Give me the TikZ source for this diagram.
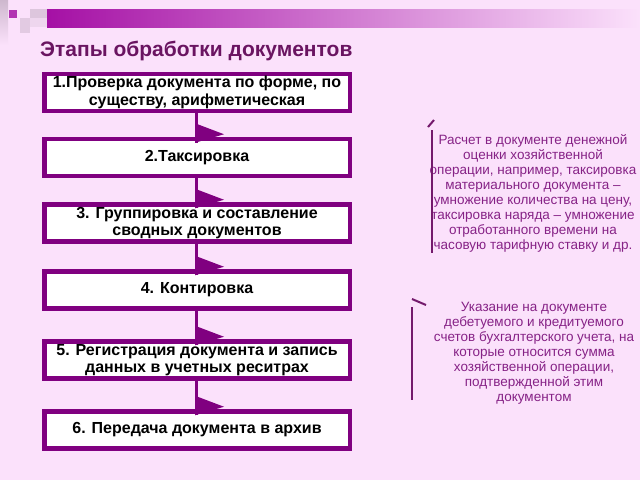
\documentclass[tikz,border=0pt]{standalone}
\usepackage{fontspec}
\setmainfont{Liberation Sans}
\definecolor{bgc}{HTML}{FBE1FB}
\definecolor{boxc}{HTML}{800080}
\definecolor{titlec}{HTML}{6A1461}
\definecolor{notec}{HTML}{862286}
\definecolor{brkc}{HTML}{741A6C}
\definecolor{barc}{HTML}{A510A5}
\begin{document}
\begin{tikzpicture}[x=1pt,y=-1pt,
  stepbox/.style={draw=boxc, line width=4.5pt, fill=white, minimum width=305.5pt,
    minimum height=37pt, inner sep=0pt, align=center,
    font=\fontsize{16}{17.5}\selectfont\bfseries},
  conn/.style={draw=boxc, line width=3pt},
  tri/.style={fill=boxc},
  note/.style={text=notec, align=center, font=\fontsize{13.5}{15}\selectfont},
  brk/.style={draw=brkc, line width=2pt}]
\useasboundingbox (0,0) rectangle (640,480);
\fill[bgc] (0,0) rectangle (640,480);
% header decoration
\shade[top color=black!18!bgc, bottom color=bgc] (0,0) rectangle (8,45);
\fill[barc!85!white] (9,10) rectangle (17,18);
\fill[black!10!bgc] (20,18) rectangle (30,33);
\fill[black!12!bgc] (30,9) rectangle (47,18);
\fill[black!5!bgc] (30,18) rectangle (47,27);
\shade[left color=barc, right color=bgc] (47,9) rectangle (640,27);
% title
\node[anchor=base west, inner sep=0pt, text=titlec, font=\fontsize{21}{24}\selectfont\bfseries] (title) at (40,56) {Этапы обработки документов};
% boxes
\node[stepbox] (b1) at (197,92.5) {1.Проверка документа по форме, по\\существу, арифметическая};
\node[stepbox] (b2) at (197,157.5) {2.Таксировка};
\node[stepbox] (b3) at (197,223) {3. Группировка и составление\\сводных документов};
\node[stepbox] (b4) at (197,290) {4. Контировка};
\node[stepbox] (b5) at (197,360) {5. Регистрация документа и запись\\данных в учетных реситрах};
\node[stepbox] (b6) at (197,430) {6. Передача документа в архив};
% connectors
\foreach \a/\b in {b1/b2,b2/b3,b3/b4,b4/b5,b5/b6}{
  \draw[conn] ([xshift=-0.5pt]\a.south) -- ([xshift=-0.5pt,yshift=-6pt]\b.north);
  \fill[tri] ([xshift=-2pt,yshift=13.5pt]\b.north) -- ([xshift=27pt,yshift=2.5pt]\b.north) -- ([xshift=-2pt,yshift=-6pt]\b.north) -- cycle;
}
% notes
\node[note] (n1) at (533,193) {Расчет в документе денежной\\оценки хозяйственной\\операции, например, таксировка\\материального документа --\\умножение количества на цену,\\таксировка наряда -- умножение\\отработанного времени на\\часовую тарифную ставку и др.};
\node[note] (n2) at (534,353) {Указание на документе\\дебетуемого и кредитуемого\\счетов бухгалтерского учета, на\\которые относится сумма\\хозяйственной операции,\\подтвержденной этим\\документом};
% brackets
\coordinate (k1a) at (428,127);
\coordinate (k1b) at (434,120);
\coordinate (k1c) at (432,130);
\coordinate (k1d) at (432,253);
\draw[brk] (k1a) -- (k1b);
\draw[brk] (k1c) -- (k1d);
\coordinate (k2a) at (412,299);
\coordinate (k2b) at (426,305);
\coordinate (k2c) at (412,307);
\coordinate (k2d) at (412,400);
\draw[brk] (k2a) -- (k2b);
\draw[brk] (k2c) -- (k2d);
\end{tikzpicture}
\end{document}
